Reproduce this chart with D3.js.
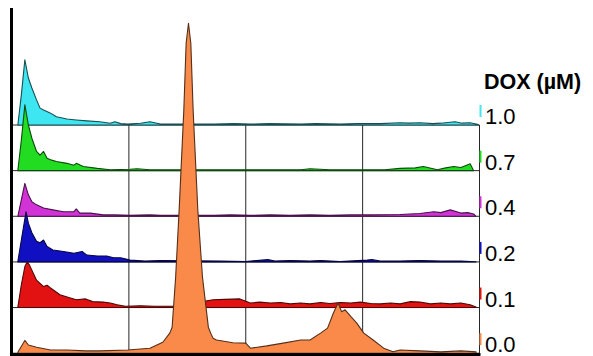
<!DOCTYPE html>
<html>
<head>
<meta charset="utf-8">
<script src="https://cdn.jsdelivr.net/npm/d3@7"></script>
<style>
  body { margin: 0; background: #fff; }
  svg { display: block; }
</style>
</head>
<body>
<svg id="chart" width="593" height="356"></svg>
<script>
// doses, top row first
var doses = ["1.0", "0.7", "0.4", "0.2", "0.1", "0.0"];
var colors = ["#3ee6f2", "#22dc22", "#d233d6", "#1010c2", "#e31212", "#f98a4a"];

// histogram points: [log decade, counts] (100 counts = one row step)
var dose10 = [[0.05,0],[0.08,66],[0.11,143],[0.14,103],[0.17,81],[0.21,55],[0.24,37],[0.27,33],[0.33,26],[0.38,18],[0.47,13],[0.55,11],[0.64,9],[0.75,7],[0.84,4],[0.88,7],[0.93,3],[0.99,2],[1.10,4],[1.18,7],[1.27,2],[1.73,2],[1.90,3],[2.04,2],[2.20,3],[2.47,2],[2.60,3],[2.81,2],[2.95,3],[3.15,3],[3.32,5],[3.40,4],[3.49,5],[3.60,3],[3.67,4],[3.79,7],[3.85,4],[3.92,5],[3.99,1]];
var dose07 = [[0.05,0],[0.08,67],[0.11,144],[0.14,100],[0.17,71],[0.21,42],[0.24,34],[0.27,42],[0.30,27],[0.34,23],[0.38,20],[0.47,16],[0.53,12],[0.55,16],[0.61,9],[0.73,5],[0.84,2],[1.01,3],[1.07,4],[1.18,2],[1.27,2],[1.73,2],[2.12,2],[2.47,2],[2.55,4],[2.72,2],[2.98,2],[3.19,2],[3.32,5],[3.45,6],[3.52,9],[3.64,2],[3.71,6],[3.78,9],[3.84,7],[3.89,12],[3.92,15],[3.95,0]];
var dose04 = [[0.05,0],[0.08,36],[0.11,72],[0.14,47],[0.17,32],[0.21,25],[0.27,18],[0.35,14],[0.44,10],[0.53,10],[0.55,16],[0.58,7],[0.67,7],[0.78,3],[0.88,3],[1.01,2],[1.18,3],[1.27,2],[1.73,2],[1.87,3],[2.04,2],[2.21,3],[2.38,2],[2.55,3],[2.72,2],[2.90,3],[3.07,3],[3.32,4],[3.49,6],[3.61,10],[3.67,8],[3.75,14],[3.84,7],[3.90,8],[3.95,5],[3.97,0]];
var dose02 = [[0.05,1],[0.08,48],[0.12,110],[0.14,85],[0.17,64],[0.21,45],[0.24,42],[0.27,48],[0.30,34],[0.35,26],[0.44,23],[0.53,19],[0.60,23],[0.64,15],[0.73,13],[0.81,13],[0.87,9],[0.93,9],[1.01,4],[1.14,2],[1.27,3],[1.78,2],[2.00,1],[2.14,4],[2.19,5],[2.25,2],[2.38,3],[2.55,2],[2.64,3],[2.81,1],[3.04,4],[3.08,5],[3.15,2],[3.32,2],[3.49,3],[3.67,2],[3.84,2],[3.97,0]];
var dose01 = [[0.05,1],[0.08,50],[0.11,90],[0.13,100],[0.15,93],[0.17,82],[0.21,60],[0.27,46],[0.30,49],[0.33,43],[0.41,28],[0.50,21],[0.55,17],[0.63,19],[0.69,13],[0.78,12],[0.84,10],[0.90,6],[0.97,3],[1.10,4],[1.22,3],[1.40,3],[1.72,17],[1.82,18],[1.95,19],[2.00,14],[2.04,10],[2.12,12],[2.21,10],[2.30,11],[2.38,8],[2.47,10],[2.55,8],[2.64,11],[2.72,9],[2.81,11],[2.90,10],[2.98,12],[3.07,9],[3.15,8],[3.24,10],[3.32,8],[3.41,13],[3.49,12],[3.58,8],[3.67,10],[3.75,8],[3.84,10],[3.92,6],[3.97,1]];
var dose00 = [[0.05,2],[0.11,28],[0.14,18],[0.21,13],[0.33,7],[0.47,7],[0.63,5],[0.75,5],[0.99,7],[1.18,11],[1.29,24],[1.35,44],[1.37,57],[1.40,166],[1.43,313],[1.47,532],[1.49,679],[1.51,723],[1.53,679],[1.55,532],[1.59,313],[1.63,166],[1.68,57],[1.70,44],[1.72,33],[1.75,29],[1.89,23],[2.00,22],[2.04,11],[2.18,16],[2.32,22],[2.47,29],[2.55,29],[2.64,44],[2.70,55],[2.75,88],[2.79,110],[2.82,91],[2.85,95],[2.90,80],[2.95,66],[3.01,44],[3.09,29],[3.18,11],[3.26,3],[3.32,7],[3.49,5],[3.67,3],[3.84,5],[3.97,3]];
var histograms = [dose10, dose07, dose04, dose02, dose01, dose00];

var decades = [1, 2, 3, 4];

var svg = d3.select("#chart");

var x = d3.scaleLinear().domain([0, 4]).range([12, 479.5]);
var row = d3.scalePoint().domain(doses).range([125, 353.2]);
var step = row.step();
var y = d3.scaleLinear().domain([0, 100]).range([0, step]);

// grid: row baselines + decade lines
svg.selectAll("line.base")
  .data(doses)
  .enter().append("line")
  .attr("class", "base")
  .attr("x1", x(0)).attr("x2", x(4))
  .attr("y1", function(d) { return row(d); })
  .attr("y2", function(d) { return row(d); })
  .attr("stroke", "#262626")
  .attr("stroke-width", 1);

svg.selectAll("line.dec")
  .data(decades)
  .enter().append("line")
  .attr("class", "dec")
  .attr("x1", function(d) { return x(d); })
  .attr("x2", function(d) { return x(d); })
  .attr("y1", row(doses[0]))
  .attr("y2", 355)
  .attr("stroke", "#262626")
  .attr("stroke-width", 1);

// histograms, top row first so lower rows sit on top
histograms.forEach(function(pts, i) {
  var base = row(doses[i]);
  var area = d3.area()
    .x(function(d) { return x(d[0]); })
    .y0(base)
    .y1(function(d) { return base - y(d[1]); });

  svg.append("path")
    .datum(pts)
    .attr("d", area)
    .attr("fill", colors[i])
    .attr("stroke", d3.color(colors[i]).darker(3))
    .attr("stroke-width", 1.1)
    .attr("stroke-linejoin", "round");

  // colored mark on the right edge
  svg.append("line")
    .attr("x1", x(4) + 1).attr("x2", x(4) + 1)
    .attr("y1", base - 20).attr("y2", base - 8)
    .attr("stroke", colors[i])
    .attr("stroke-width", 2);
});

// axes
svg.append("line")
  .attr("x1", 11.5).attr("x2", 11.5)
  .attr("y1", 8).attr("y2", 356)
  .attr("stroke", "#000")
  .attr("stroke-width", 3);

svg.append("line")
  .attr("x1", 10).attr("x2", x(4) + 1)
  .attr("y1", 354.5).attr("y2", 354.5)
  .attr("stroke", "#000")
  .attr("stroke-width", 3);

// labels
svg.append("text")
  .attr("x", 484)
  .attr("y", 89)
  .attr("font-family", "Liberation Sans, Arial, sans-serif")
  .attr("font-weight", "bold")
  .attr("font-size", 21.5)
  .attr("fill", "#000")
  .text("DOX (µM)");

svg.selectAll("text.dose")
  .data(doses)
  .enter().append("text")
  .attr("class", "dose")
  .attr("x", 485)
  .attr("y", function(d) { return row(d) - 1; })
  .attr("font-family", "Liberation Sans, Arial, sans-serif")
  .attr("font-size", 22)
  .attr("fill", "#000")
  .text(function(d) { return d; });
</script>
</body>
</html>
